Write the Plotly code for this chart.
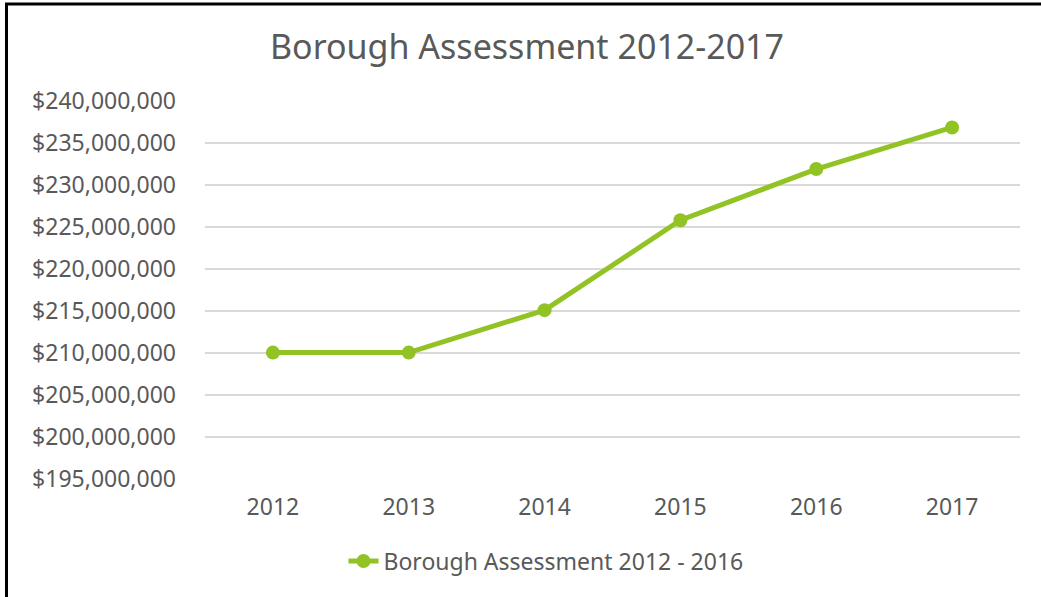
import plotly.graph_objects as go

years = ["2012", "2013", "2014", "2015", "2016", "2017"]
assessment = [210050000, 210050000, 215100000, 225800000, 231900000, 236850000]
series_name = "Borough Assessment 2012 - 2016"
title_text = "Borough Assessment 2012-2017"
y_ticks = list(range(195000000, 240000001, 5000000))
y_tick_labels = ["${:,}".format(v) for v in y_ticks]

W, H = 1041, 597
ML, MR, MT, MB = 205, 21, 101, 118
PW, PH = W - ML - MR, H - MT - MB

def px_x(p):
    return (p - ML) / PW

def px_y(p):
    return (H - MB - p) / PH

green = "#92C324"
text_col = "#595959"
font_fam = "Noto Sans, DejaVu Sans, sans-serif"

fig = go.Figure()
fig.add_trace(go.Scatter(
    x=years, y=assessment, mode="lines+markers", name=series_name,
    line=dict(color=green, width=5),
    marker=dict(color=green, size=14),
))

fig.update_layout(
    width=W, height=H,
    margin=dict(l=ML, r=MR, t=MT, b=MB),
    paper_bgcolor="white", plot_bgcolor="white",
    font=dict(family=font_fam, color=text_col, size=23),
    title=dict(text=title_text, x=px_x(527), xref="paper", xanchor="center",
               y=1 - 47 / H, yref="container", yanchor="middle",
               font=dict(size=34, color=text_col, family=font_fam)),
    showlegend=True,
    legend=dict(orientation="h", x=px_x(546), xanchor="center",
                y=px_y(561), yanchor="middle",
                font=dict(size=23, color=text_col, family=font_fam),
                bgcolor="rgba(0,0,0,0)"),
    xaxis=dict(type="category", range=[-0.5, 5.5], showgrid=False, showline=False,
               zeroline=False, ticks="",
               tickfont=dict(size=23, color=text_col), ticklabelstandoff=12,
               fixedrange=True),
    yaxis=dict(range=[195000000, 240000000], tickvals=y_ticks, ticktext=y_tick_labels,
               showgrid=True, gridcolor="#D9D9D9", gridwidth=2, zeroline=False,
               showline=False, ticks="", ticklabelstandoff=28,
               tickfont=dict(size=23, color=text_col), fixedrange=True),
    shapes=[dict(type="rect", xref="paper", yref="paper",
                 x0=px_x(6.5), x1=px_x(1048), y0=px_y(605), y1=px_y(4),
                 line=dict(color="black", width=3), fillcolor="rgba(0,0,0,0)",
                 layer="above")],
)

fig.write_html("out.html", config={"displayModeBar": False})
